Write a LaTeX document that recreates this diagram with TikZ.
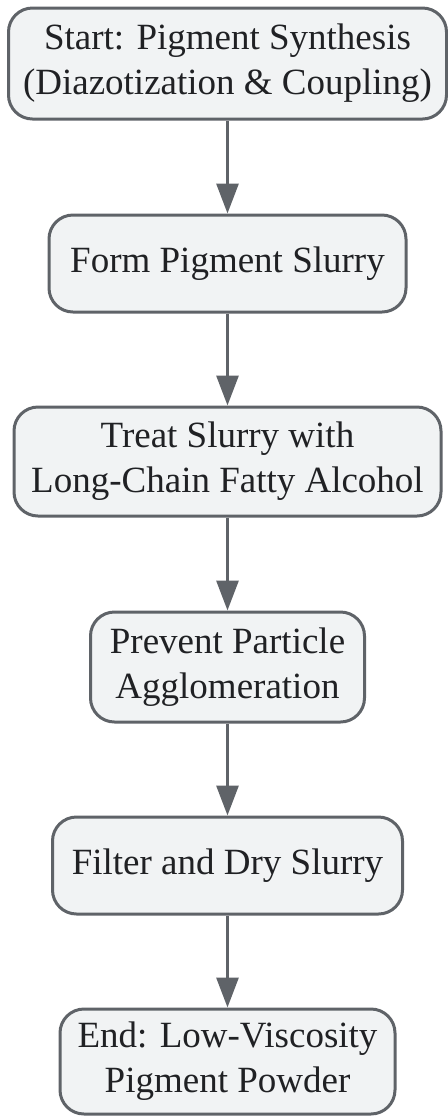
\documentclass[tikz,border=0pt]{standalone}
\usepackage{fontspec}
\setmainfont{Liberation Serif}
\usetikzlibrary{arrows.meta,positioning}
\definecolor{boxline}{HTML}{5F6368}
\definecolor{boxfill}{HTML}{F1F3F4}
\definecolor{boxtext}{HTML}{202124}
\tikzset{
  stepbox/.style={draw=boxline, fill=boxfill, text=boxtext, line width=1.5pt,
    rounded corners=12pt, align=center, inner sep=0pt,
    font={\fontsize{18.5}{22.5}\selectfont}},
  flow/.style={draw=boxline, line width=1.5pt, -{Triangle[width=11pt,length=15pt]}}
}
\begin{document}
\begin{tikzpicture}[x=1pt,y=-1pt]
\useasboundingbox (0,0) rectangle (223.5,558);
%Start
\node[stepbox, minimum width=219pt, minimum height=55.5pt] (start) at (113.75,31.75)
  {Start: Pigment Synthesis\\(Diazotization \& Coupling)};
%Form slurry
\node[stepbox, minimum width=178.5pt, minimum height=48.5pt] (form) at (113.75,131.75)
  {Form Pigment Slurry};
%Treat
\node[stepbox, minimum width=213.5pt, minimum height=54.5pt] (treat) at (113.75,230.75)
  {Treat Slurry with\\Long-Chain Fatty Alcohol};
%Prevent
\node[stepbox, minimum width=137pt, minimum height=55pt] (prevent) at (113.75,333.5)
  {Prevent Particle\\Agglomeration};
%Filter
\node[stepbox, minimum width=175pt, minimum height=48.5pt] (filter) at (113.75,432.75)
  {Filter and Dry Slurry};
%End
\node[stepbox, minimum width=167.5pt, minimum height=52.5pt] (end) at (113.75,530.75)
  {End: Low-Viscosity\\Pigment Powder};
%arrows
\draw[flow] (start) -- (form);
\draw[flow] (form) -- (treat);
\draw[flow] (treat) -- (prevent);
\draw[flow] (prevent) -- (filter);
\draw[flow] (filter) -- (end);
\end{tikzpicture}
\end{document}
